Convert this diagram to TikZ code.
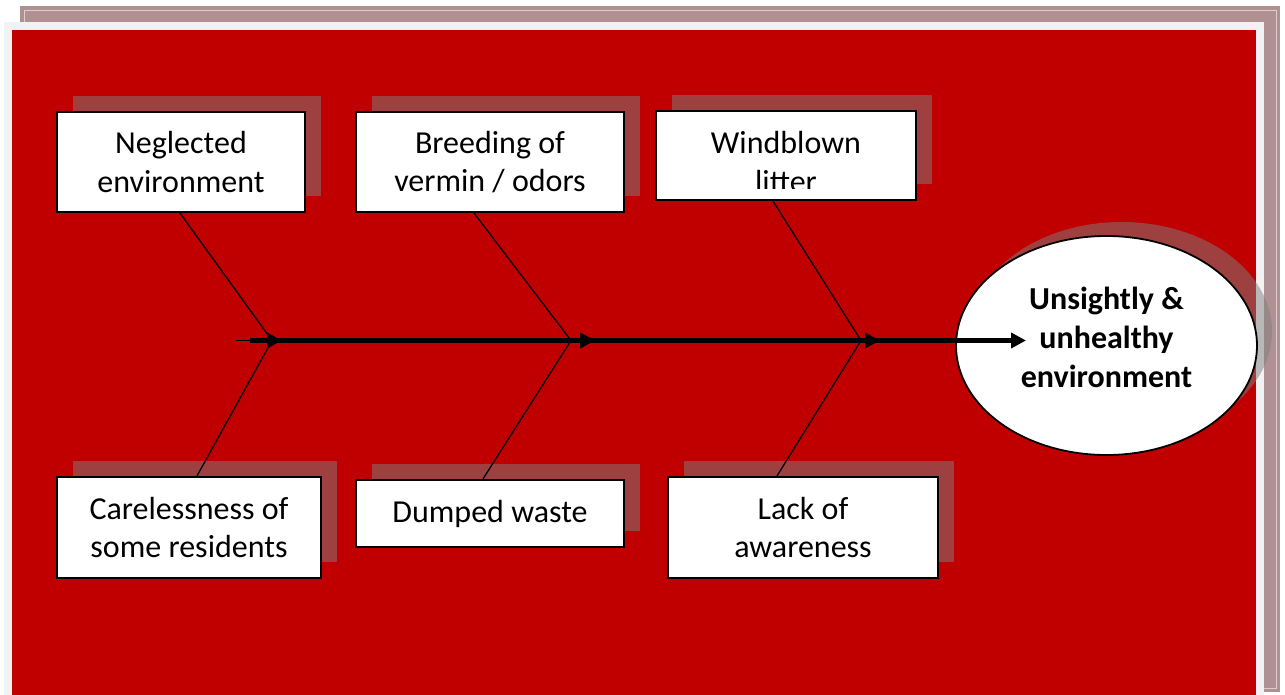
\documentclass[tikz,border=0pt]{standalone}
\usepackage{fontspec}
\setmainfont{Carlito}
\usetikzlibrary{arrows.meta,calc,shapes.geometric,shadows}
\definecolor{bgred}{RGB}{192,0,0}
\definecolor{mauve}{RGB}{176,144,144}
\definecolor{lgray}{RGB}{242,242,242}
\definecolor{framewhite}{RGB}{220,206,206}
\begin{document}
\begin{tikzpicture}[x=1pt,y=-1pt,
  boxfont/.style={font=\fontsize{32}{38.5}\selectfont},
  causebox/.style={boxfont,draw=black,line width=2.2pt,fill=white,inner sep=0pt,align=center,
    drop shadow={shadow xshift=16pt,shadow yshift=16pt,fill=black!50,opacity=0.5}},
  plaintext/.style={boxfont,inner sep=0pt,align=center},
  effect/.style={ellipse,draw=black,line width=1.8pt,fill=white,inner sep=0pt,
    minimum width=301pt,minimum height=219pt,
    drop shadow={shadow xshift=15pt,shadow yshift=14pt,fill=black!50,opacity=0.5}},
  efftext/.style={font=\fontsize{32}{39}\selectfont\bfseries,inner sep=0pt,align=center},
  bone/.style={line width=1.3pt,draw=black},
  spine/.style={line width=4.5pt,draw=black,-{Triangle[length=15pt,width=15pt]}}
]
\useasboundingbox (0,0) rectangle (1285,695);
\fill[white] (0,0) rectangle (1285,695);
% frame
\fill[mauve] (20,6) rectangle (1280,692);
\draw[framewhite,line width=0.7pt] (24,10) rectangle (1276,688);
\fill[lgray] (4,22) rectangle (1264,695);
\fill[bgred] (12,30) rectangle (1256,695);

% cause boxes
\node[causebox,minimum width=248pt,minimum height=100pt] (n1) at (181,162) {Neglected\\environment};
\node[causebox,minimum width=268pt,minimum height=100pt] (n2) at (490,162) {Breeding of\\vermin / odors};
\node[causebox,minimum width=260pt,minimum height=89pt] (n3) at (786,155.5) {};
\begin{scope}
  \clip (658,113) rectangle (914,189);
  \node[plaintext] (t3) at (786,162) {Windblown\\litter};
\end{scope}
\node[causebox,minimum width=264pt,minimum height=101pt] (n4) at (189,527.5) {Carelessness of\\some residents};
\node[causebox,minimum width=268pt,minimum height=67pt] (n5) at (490,513.5) {Dumped waste};
\node[causebox,minimum width=270pt,minimum height=101pt] (n6) at (803,527.5) {Lack of\\awareness};

% effect
\node[effect] (eff) at (1106.5,345.5) {};
\node[efftext] (efft) at (1106.5,337) {Unsightly \&\\unhealthy\\environment};

% spine coordinates
\coordinate (s0) at (236,340.5);
\coordinate (s1) at (250,340.5);
\coordinate (j1) at (272,340.5);
\coordinate (j2) at (571,340.5);
\coordinate (j3) at (861,340.5);
\coordinate (a1) at (282,340.5);
\coordinate (a2) at (595,340.5);
\coordinate (a3) at (880,340.5);
\coordinate (a4) at (1026,340.5);
\coordinate (e4) at (1008,340.5);

% bones
\draw[bone] ([xshift=-1pt]n1.south) -- (j1);
\draw[bone] ([xshift=-16pt]n2.south) -- (j2);
\draw[bone] ([xshift=-13pt]n3.south) -- (j3);
\draw[bone] ([xshift=8pt]n4.north) -- (j1);
\draw[bone] ([xshift=-7pt]n5.north) -- (j2);
\draw[bone] ([xshift=-26pt]n6.north) -- (j3);

% spine
\draw[line width=1.5pt] (s0) -- (s1);
\draw[line width=4.5pt] (s1) -- (e4);
\draw[spine] (s1) -- (a1);
\draw[spine] (a1) -- (a2);
\draw[spine] (a2) -- (a3);
\draw[spine] (a3) -- (a4);
\end{tikzpicture}
\end{document}
